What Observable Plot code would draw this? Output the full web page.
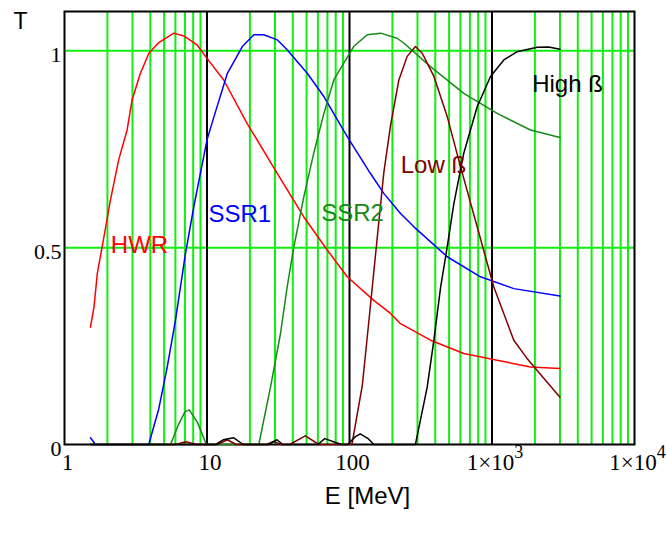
<!DOCTYPE html>
<html><head><meta charset="utf-8">
<script src="https://cdn.jsdelivr.net/npm/d3@7"></script>
<script src="https://cdn.jsdelivr.net/npm/@observablehq/plot@0.6"></script>
<style>body{margin:0;background:#fff}</style>
</head><body><div id="chart"></div>
<script>
// Data
const hwrE = [1.52, 1.55, 1.61, 1.70, 1.89, 2.10, 2.40, 2.75, 2.98, 3.41, 3.91, 4.59, 5.85, 6.87, 8.53, 10.0, 13.1, 19.1, 31.1, 47.8, 69.8, 96.4, 148, 194, 228, 370, 634, 1087, 1862, 3000];
const hwrT = [0.298, 0.315, 0.349, 0.435, 0.527, 0.621, 0.723, 0.799, 0.875, 0.943, 0.994, 1.021, 1.045, 1.038, 1.015, 0.981, 0.926, 0.816, 0.689, 0.578, 0.494, 0.426, 0.366, 0.333, 0.307, 0.265, 0.231, 0.214, 0.197, 0.193];

const ssr1E = [1.52, 1.65, 3.9, 4.59, 5.26, 6.01, 7.06, 8.08, 10.0, 11.2, 13.9, 17.7, 21.3, 25.0, 31.1, 36.5, 50.5, 66.1, 96.4, 140, 174, 228, 283, 485, 830, 1422, 3000];
const ssr1T = [0.017, 0, 0, 0.091, 0.197, 0.316, 0.485, 0.604, 0.774, 0.833, 0.943, 1.011, 1.041, 1.041, 1.028, 1.003, 0.943, 0.884, 0.782, 0.689, 0.638, 0.587, 0.553, 0.477, 0.426, 0.396, 0.377];

const ssr2E = [1.52, 5.55, 6.3, 7.0, 7.5, 8.6, 9.9, 23.1, 27.9, 32.8, 36.5, 40.7, 47.8, 56.1, 66.1, 77.6, 91.2, 107, 133, 165, 216, 240, 370, 634, 1087, 1862, 3000];
const ssr2T = [0, 0, 0.05, 0.083, 0.088, 0.055, 0, 0, 0.146, 0.282, 0.400, 0.502, 0.629, 0.740, 0.841, 0.926, 0.969, 1.011, 1.041, 1.045, 1.032, 1.020, 0.960, 0.892, 0.841, 0.799, 0.780];

const lowE = [1.52, 6.0, 7.1, 8.5, 11.8, 13.9, 16, 26, 29.5, 33, 38, 49, 61, 104, 123, 140, 156, 174, 194, 222, 254, 290, 324, 391, 485, 601, 787, 1030, 1422, 1750, 2075, 3000];
const lowT = [0, 0, 0.007, 0, 0, 0.012, 0, 0, 0.008, 0, 0, 0.022, 0, 0, 0.15, 0.35, 0.52, 0.69, 0.81, 0.926, 0.986, 1.011, 0.994, 0.935, 0.833, 0.706, 0.553, 0.400, 0.265, 0.22, 0.188, 0.120];

const highE = [1.52, 11.5, 13, 15.4, 18, 27, 31, 34, 60, 67, 80, 88, 97, 110, 119, 135, 148, 290, 351, 391, 436, 485, 540, 634, 787, 976, 1210, 1502, 2075, 2500, 3000];
const highT = [0, 0, 0.012, 0.017, 0, 0, 0.012, 0, 0, 0.015, 0.005, 0, 0, 0.02, 0.027, 0.015, 0, 0, 0.146, 0.265, 0.400, 0.502, 0.612, 0.740, 0.858, 0.935, 0.977, 0.998, 1.009, 1.010, 1.004];

const seriesNames = ["HWR", "SSR1", "SSR2", "Low ß", "High ß"];
const labelE = [3.36, 17.0, 105, 388, 3388];
const labelT = [0.505, 0.584, 0.587, 0.709, 0.915];

const xTicks = [1, 10, 100, 1000, 10000];
const yTicks = [0, 0.5, 1];
const decadeLines = [10, 100, 1000];
const minorLines = [1, 10, 100, 1000].flatMap(p => [2,3,4,5,6,7,8,9].map(m => m * p));
const hLines = [0.5, 1];

// styles
const colors = {"HWR": "#ff0000", "SSR1": "#0000ff", "SSR2": "#158a15", "Low ß": "#800000", "High ß": "#000000"};
const green = "#11ee11";

const series = [
  {name: "HWR", E: hwrE, T: hwrT},
  {name: "SSR1", E: ssr1E, T: ssr1T},
  {name: "SSR2", E: ssr2E, T: ssr2T},
  {name: "Low ß", E: lowE, T: lowT},
  {name: "High ß", E: highE, T: highT}
].map(s => ({name: s.name, rows: s.E.map((e, i) => ({E: e, T: s.T[i]}))}));

const labels = seriesNames.map((n, i) => ({name: n, E: labelE[i], T: labelT[i]}));

const sup = {3: "³", 4: "⁴"};
const fmtX = d => d < 1000 ? String(d) : "1×10" + sup[Math.round(Math.log10(d))];

const plot = Plot.plot({
  width: 666, height: 533,
  marginLeft: 64, marginRight: 32, marginTop: 11, marginBottom: 89,
  x: {type: "log", domain: [1, 10000]},
  y: {domain: [0, 1.1]},
  style: {background: "white", overflow: "visible"},
  marks: [
    Plot.ruleX(minorLines, {stroke: green, strokeWidth: 2}),
    Plot.ruleY(hLines, {stroke: green, strokeWidth: 2}),
    Plot.ruleX(decadeLines, {stroke: "black", strokeWidth: 2}),
    Plot.frame({stroke: "black", strokeWidth: 2}),
    ...series.map(s => Plot.line(s.rows, {x: "E", y: "T", stroke: colors[s.name], strokeWidth: 1.5})),
    ...labels.map(l => Plot.text([l], {x: "E", y: "T", text: "name", fill: colors[l.name], fontSize: 24, fontFamily: "Liberation Sans, Arial, sans-serif", textAnchor: "middle", lineAnchor: "middle"})),
    Plot.axisX(xTicks, {tickSize: 0, tickPadding: 9, fontSize: 23, fontFamily: "Liberation Serif, Times New Roman, serif", tickFormat: fmtX, dx: 3, label: null}),
    Plot.axisY(yTicks, {tickSize: 0, tickPadding: 3, fontSize: 22, fontFamily: "Liberation Serif, Times New Roman, serif", tickFormat: d => String(d), dy: 4.5, label: null}),
    Plot.text(["E [MeV]"], {frameAnchor: "bottom", lineAnchor: "bottom", dy: 59, dx: 18, fontSize: 24, fontFamily: "Liberation Sans, Arial, sans-serif", fill: "black"}),
    Plot.text(["T"], {frameAnchor: "top-left", lineAnchor: "middle", textAnchor: "middle", dx: -44, dy: 10.5, fontSize: 23, fontFamily: "Liberation Sans, Arial, sans-serif", fill: "black"})
  ]
});

// render exponent as superscript
plot.querySelectorAll("text").forEach(t => {
  const s = t.textContent;
  const m = s.match(/^1×10([³⁴])$/);
  if (m) {
    t.textContent = "1×10";
    const ts = document.createElementNS("http://www.w3.org/2000/svg", "tspan");
    ts.setAttribute("dy", "-12");
    ts.setAttribute("font-size", "18");
    ts.textContent = m[1] === "³" ? "3" : "4";
    t.appendChild(ts);
  }
});

document.getElementById("chart").appendChild(plot);
</script>
</body></html>
